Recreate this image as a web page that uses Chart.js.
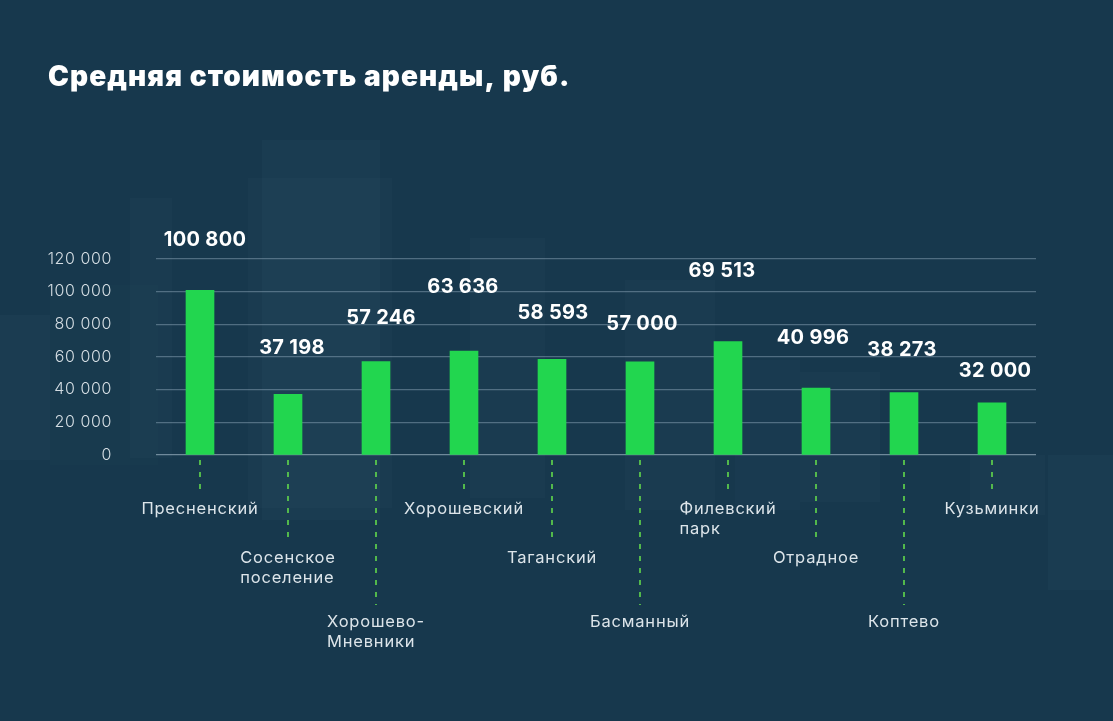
<!DOCTYPE html>
<html><head><meta charset="utf-8">
<script src="https://cdn.jsdelivr.net/npm/chart.js@4.4.1/dist/chart.umd.min.js"></script>
<style>
html,body{margin:0;padding:0;background:#17384d;overflow:hidden}
#wrap{width:1113px;height:721px;position:relative}
</style>
</head><body>
<div id="wrap"><canvas id="c" width="1113" height="721"></canvas></div>
<script>
// ---- data ----
const categories = [
  ["Пресненский"], ["Сосенское", "поселение"], ["Хорошево-", "Мневники"],
  ["Хорошевский"], ["Таганский"], ["Басманный"], ["Филевский", "парк"],
  ["Отрадное"], ["Коптево"], ["Кузьминки"]
];
const rentValues = [100800, 37198, 57246, 63636, 58593, 57000, 69513, 40996, 38273, 32000];
const yTickValues = [0, 20000, 40000, 60000, 80000, 100000, 120000];
const titleText = "Средняя стоимость аренды, руб.";

function fmt(v) { return String(v).replace(/\B(?=(\d{3})+(?!\d))/g, " "); }

// ---- decoration / annotation layout (not data) ----
const layoutCfg = {
  labelLift: [50, 46, 44, 64, 46, 38, 70, 50, 43, 32],
  labelShift: [5, 4, 5, -1, 1, 2, -6, -3, -2, 3],
  catLevel: [0, 1, 2, 0, 1, 2, 0, 1, 2, 0],
  levelTextY: [509, 558, 622],
  levelLineEnd: [493, 540, 605],
  buildings: [
    [262, 140, 118, 380, 0.035], [248, 178, 144, 330, 0.03], [130, 198, 42, 260, 0.03],
    [0, 315, 50, 145, 0.04], [470, 238, 75, 260, 0.03], [625, 280, 90, 230, 0.03],
    [735, 360, 65, 150, 0.025], [800, 372, 80, 130, 0.03], [970, 455, 75, 60, 0.03],
    [1048, 455, 65, 135, 0.035], [50, 285, 108, 180, 0.015]
  ]
};

const decoPlugin = {
  id: 'deco',
  beforeDraw(chart) {
    const ctx = chart.ctx;
    ctx.save();
    ctx.fillStyle = '#17384d';
    ctx.fillRect(0, 0, chart.width, chart.height);
    layoutCfg.buildings.forEach(b => {
      ctx.fillStyle = 'rgba(120,170,200,' + b[4] + ')';
      ctx.fillRect(b[0], b[1], b[2], b[3]);
    });
    ctx.restore();
    ctx.letterSpacing = '0.6px';
  },
  afterDraw(chart) {
    const ctx = chart.ctx;
    const xs = chart.scales.x, ys = chart.scales.y;
    ctx.save();
    // title
    ctx.fillStyle = '#ffffff';
    ctx.font = '900 28px Inter';
    ctx.letterSpacing = '1.1px';
    ctx.textAlign = 'left';
    ctx.textBaseline = 'middle';
    ctx.fillText(titleText, 48, 78);
    // value labels
    ctx.font = '700 20px Inter';
    ctx.letterSpacing = '0.3px';
    ctx.textAlign = 'center';
    rentValues.forEach((v, i) => {
      const x = xs.getPixelForValue(i) + layoutCfg.labelShift[i];
      const y = ys.getPixelForValue(v) - layoutCfg.labelLift[i];
      ctx.fillText(fmt(v), x, y);
    });
    // category labels and dashed leaders
    const base = ys.getPixelForValue(0);
    categories.forEach((lines, i) => {
      const lvl = layoutCfg.catLevel[i];
      const cx = xs.getPixelForValue(i);
      ctx.strokeStyle = '#62d94c';
      ctx.lineWidth = 1.6;
      ctx.setLineDash([5, 7]);
      ctx.beginPath();
      ctx.moveTo(cx, base + 5);
      ctx.lineTo(cx, layoutCfg.levelLineEnd[lvl]);
      ctx.stroke();
      ctx.setLineDash([]);
      ctx.font = '400 16.5px Inter';
      ctx.letterSpacing = '0.8px';
      ctx.fillStyle = '#dde5ea';
      ctx.textAlign = 'left';
      let w = 0;
      lines.forEach(t => { w = Math.max(w, ctx.measureText(t).width); });
      const left = cx - w / 2;
      lines.forEach((t, k) => {
        ctx.fillText(t, left, layoutCfg.levelTextY[lvl] + k * 20);
      });
    });
    ctx.restore();
  }
};

new Chart(document.getElementById('c'), {
  type: 'bar',
  data: {
    labels: categories,
    datasets: [{
      data: rentValues,
      backgroundColor: '#22d64f',
      borderWidth: 0,
      barThickness: 28
    }]
  },
  options: {
    responsive: false,
    animation: false,
    layout: { padding: { left: 48, right: 77, top: 259, bottom: 258 } },
    plugins: { legend: { display: false }, tooltip: { enabled: false }, title: { display: false } },
    scales: {
      x: {
        ticks: { display: false },
        grid: { display: false },
        border: { display: false }
      },
      y: {
        min: 0, max: 120000,
        afterBuildTicks(scale) { scale.ticks = yTickValues.map(v => ({ value: v })); },
        afterFit(scale) { scale.width = 108; },
        ticks: {
          padding: 44,
          color: '#d3dce2',
          font: { family: 'Inter', size: 16, weight: '300' },
          callback: v => fmt(v)
        },
        grid: {
          color: ctx => ctx.tick && ctx.tick.value === 0 ? 'rgba(170,192,206,0.6)' : 'rgba(150,175,192,0.45)',
          lineWidth: 1.2, drawTicks: false
        },
        border: { display: false }
      }
    }
  },
  plugins: [decoPlugin]
});
</script>
</body></html>
